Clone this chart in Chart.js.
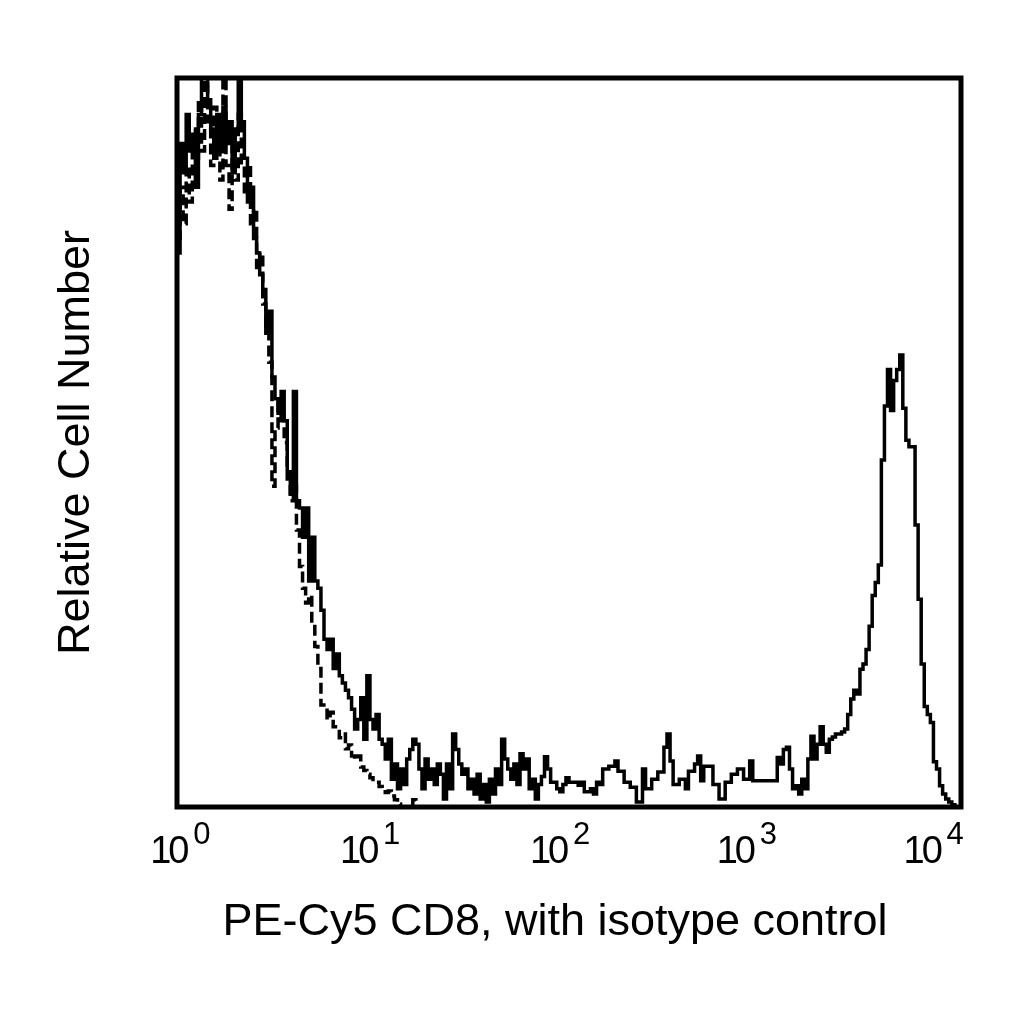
<!DOCTYPE html>
<html lang="en">

<head>
    <meta charset="UTF-8">
    <title>PE-Cy5 CD8</title>
    <script src="https://cdn.jsdelivr.net/npm/chart.js"></script>
    <style>
        html, body { margin: 0; padding: 0; background: #fff; }
    </style>
</head>

<body>
    <canvas id="histo" width="1024" height="1024"></canvas>

    <script>
        // 256 log-scaled channels, 4 decades; counts as % of full scale
        const cd8Counts = [
            76, 91, 87, 95, 90, 92, 85, 95, 100, 102, 97, 93, 89, 95, 90, 96,
            91, 94, 87, 93, 104, 94, 89, 83, 85, 78, 76, 73, 71, 65, 68, 59,
            56, 54, 57, 53, 45, 43, 57, 42, 41, 37, 41, 31, 37, 31, 30, 27,
            23, 21.6, 23, 19, 21, 18, 17, 16, 15, 13.4, 10.7, 12, 15, 9.3, 18, 12,
            10.7, 12.7, 9.3, 8.6, 6.6, 9.3, 3.8, 5.9, 2.5, 5.2, 3.1, 6.6, 7.9, 9.3, 8.6, 5.2,
            2.5, 6.6, 3.8, 5.2, 3.1, 5.9, 4.5, 1.1, 5.9, 2.5, 10, 7.9, 5.9, 4.5, 5.2, 2.5,
            3.8, 1.8, 4.5, 1.1, 3.1, 0.7, 3.8, 1.8, 5.2, 3.1, 9.3, 6.6, 5.2, 3.8, 5.9, 3.1,
            7.3, 5.2, 6.6, 2.5, 3.8, 1.1, 3.1, 4.2, 6.9, 5.2, 3.4, 3.4, 2.5, 2.1, 3.1, 4,
            3.4, 3.4, 3.4, 3, 3.4, 2.1, 2.1, 2.5, 1.8, 3.4, 3.1, 5.2, 5.2, 5.6, 5.6, 6.3,
            4.9, 4.9, 3.4, 3.4, 2.7, 2.7, 0.7, 0.7, 5.2, 2.5, 2.5, 3.8, 3.8, 4.8, 4.8, 8.2,
            10, 6.3, 3.1, 3.1, 3.8, 3.8, 2.5, 4.9, 4.9, 5.9, 7, 3.6, 5.6, 5.6, 5.6, 3.1,
            3.1, 1.1, 1.1, 3.4, 3.4, 4.5, 4.5, 5.2, 5.2, 3.8, 3.8, 6.3, 3.6, 3.6, 3.6, 3.6,
            3.6, 3.6, 3.6, 3.6, 6.8, 5.9, 7.9, 8.2, 5.2, 2.5, 2.9, 1.8, 3.8, 2.5, 6.6, 9.7,
            6.6, 8.6, 11, 8.6, 7.5, 9.3, 9.6, 10, 10, 10.3, 10.7, 12.7, 14.8, 16, 15.5, 18.9,
            19.6, 21.6, 24.8, 29, 30.8, 33.2, 47.6, 55, 60, 54.4, 58.5, 60, 62, 54.7, 50.3, 49.4,
            49.4, 38.7, 28.5, 19.6, 13.8, 12.7, 11.6, 6.2, 5.2, 2.9, 1.8, 1.1, 0.7, 0.3, 0, 0
        ];

        const isotypeCounts = [
            78, 85, 80, 88, 83, 93, 89, 97, 90, 104, 94, 88, 96, 92, 86, 100,
            88, 82, 91, 86, 95, 88, 84, 88, 80, 82, 74, 76, 69, 66, 61, 44,
            52, 56, 53, 50, 46, 42, 44, 38, 33, 30, 28, 29, 25, 22, 19, 14,
            14, 12, 13, 11, 11, 9.5, 10, 8, 8.5, 7, 6.5, 7, 5.5, 5, 4.5, 4,
            3.5, 3.4, 2.8, 2.5, 2, 2.2, 1.5, 1, 0.4, 0, 0, 0, 0, 1, 0, 0
        ];

        const channelCount = 256;
        const tickChannels = [2, 64, 126, 187, 248];
        const tickExponents = ['0', '1', '2', '3', '4'];
        const xTitle = 'PE-Cy5 CD8, with isotype control';
        const yTitle = 'Relative Cell Number';

        const FONT = '"Liberation Sans", Arial, Helvetica, sans-serif';

        // bins drawn from left edge, plus a closing point at the right edge
        function toSteps(counts) {
            const pts = counts.map((v, i) => ({ x: i, y: v }));
            pts.push({ x: counts.length, y: counts[counts.length - 1] });
            return pts;
        }

        const frameAndLabels = {
            id: 'frameAndLabels',
            afterDraw(chart) {
                const { ctx, chartArea: a, scales: { x } } = chart;
                ctx.save();
                ctx.strokeStyle = '#000';
                ctx.lineWidth = 5;
                ctx.strokeRect(a.left, a.top, a.right - a.left, a.bottom - a.top);

                ctx.fillStyle = '#000';
                ctx.textBaseline = 'alphabetic';
                ctx.textAlign = 'left';
                tickChannels.forEach((ch, k) => {
                    const cx = x.getPixelForValue(ch);
                    ctx.font = '38px ' + FONT;
                    ctx.letterSpacing = '-3px';
                    ctx.fillText('10', cx - 33, a.bottom + 56);
                    ctx.font = '31px ' + FONT;
                    ctx.letterSpacing = '0px';
                    ctx.fillText(tickExponents[k], cx + 10, a.bottom + 37);
                });

                ctx.font = '45px ' + FONT;
                ctx.textAlign = 'center';
                ctx.fillText(xTitle, (a.left + a.right) / 2 - 14, a.bottom + 128);
                ctx.restore();
            }
        };

        new Chart(document.getElementById('histo'), {
            type: 'line',
            data: {
                datasets: [{
                    label: 'CD8',
                    data: toSteps(cd8Counts),
                    borderColor: '#000',
                    borderWidth: 3.5,
                    stepped: true,
                    pointRadius: 0,
                    fill: false
                }, {
                    label: 'Isotype control',
                    data: toSteps(isotypeCounts),
                    borderColor: '#000',
                    borderWidth: 3.5,
                    borderDash: [11, 5],
                    stepped: true,
                    pointRadius: 0,
                    fill: false
                }]
            },
            options: {
                responsive: false,
                animation: false,
                events: [],
                layout: { padding: { top: 78, right: 63, bottom: 0, left: 0 } },
                plugins: {
                    legend: { display: false },
                    tooltip: { enabled: false }
                },
                scales: {
                    x: {
                        type: 'linear',
                        min: 0,
                        max: channelCount,
                        grid: { display: false },
                        border: { display: false },
                        ticks: { display: false },
                        afterFit(scale) { scale.height = 217; }
                    },
                    y: {
                        min: 0,
                        max: 100,
                        grid: { display: false },
                        border: { display: false },
                        ticks: { display: false },
                        title: {
                            display: true,
                            text: yTitle,
                            color: '#000',
                            font: { family: FONT, size: 45 },
                            padding: { top: 50, bottom: 0 }
                        },
                        afterFit(scale) { scale.width = 177; }
                    }
                }
            },
            plugins: [frameAndLabels]
        });
    </script>
</body>

</html>
